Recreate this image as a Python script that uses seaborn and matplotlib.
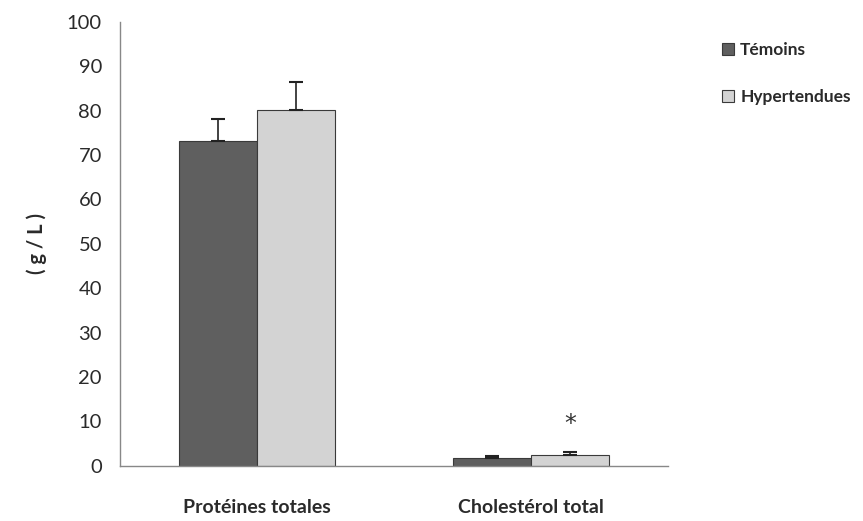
import numpy as np
import pandas as pd
import matplotlib
matplotlib.use("Agg")
import matplotlib.pyplot as plt
import seaborn as sns

categories = ["Protéines totales", "Cholestérol total"]
groups = ["Témoins", "Hypertendues"]
temoins = [73.2, 1.8]
hypertendues = [80.2, 2.5]
err_temoins = [5.0, 0.3]
err_hypertendues = [6.2, 0.5]
star_category = "Cholestérol total"
star_y = 9.5

df = pd.DataFrame({
    "categorie": categories * 2,
    "groupe": [groups[0]] * 2 + [groups[1]] * 2,
    "valeur": temoins + hypertendues,
})

sns.set_style("white")
plt.rcParams["font.family"] = ["Lato", "DejaVu Sans"]

fig = plt.figure(figsize=(8.63, 5.21), dpi=100)
ax = fig.add_axes([0.139, 0.106, 0.635, 0.852])

palette = {groups[0]: "#5f5f5f", groups[1]: "#d3d3d3"}
sns.barplot(data=df, x="categorie", y="valeur", hue="groupe", order=categories,
            hue_order=groups, palette=palette, width=0.57, errorbar=None,
            edgecolor="#3a3a3a", linewidth=0.8, saturation=1, ax=ax)

# barres d'erreur (seulement vers le haut)
errs = {groups[0]: err_temoins, groups[1]: err_hypertendues}
for cont, g in zip(ax.containers, groups):
    xs = [p.get_x() + p.get_width() / 2 for p in cont.patches]
    hs = [p.get_height() for p in cont.patches]
    ax.errorbar(xs, hs, yerr=[np.zeros(len(hs)), errs[g]], fmt="none",
                ecolor="#222222", elinewidth=1.2, capsize=5, capthick=1.5)

# astérisque
xi = categories.index(star_category)
star_x = ax.containers[1].patches[xi].get_x() + ax.containers[1].patches[xi].get_width() / 2
ax.text(star_x, star_y, "*", ha="center", va="center", fontsize=17, color="#333333",
        family="DejaVu Sans")

ax.set_ylim(0, 100)
ax.set_xlim(-0.5, 1.5)
ax.set_yticks(range(0, 101, 10))
ax.set_xticks([-0.5, 0.5, 1.5], minor=True)
ax.tick_params(axis="x", which="major", length=0, pad=24, labelsize=14)
ax.tick_params(axis="x", which="minor", length=5, color="#777777", direction="out")
ax.tick_params(axis="y", length=5, color="#777777", direction="out", labelsize=14.5,
               labelcolor="#2a2a2a", pad=8)
for lab in ax.get_xticklabels():
    lab.set_fontweight("bold")
    lab.set_color("#2a2a2a")
for s in ["top", "right"]:
    ax.spines[s].set_visible(False)
for s in ["left", "bottom"]:
    ax.spines[s].set_color("#888888")
    ax.spines[s].set_linewidth(1.0)

ax.set_xlabel("")
ax.set_ylabel("( g / L )", fontsize=14.5, fontweight="bold", color="#2a2a2a", labelpad=14)

leg = ax.legend(loc="upper left", bbox_to_anchor=(1.07, 0.99), frameon=False,
                handlelength=0.7, handleheight=0.7, handletextpad=0.35,
                labelspacing=1.8, fontsize=12.5)
for t in leg.get_texts():
    t.set_fontweight("bold")
    t.set_color("#2a2a2a")

fig.savefig("out.png", dpi=100)
